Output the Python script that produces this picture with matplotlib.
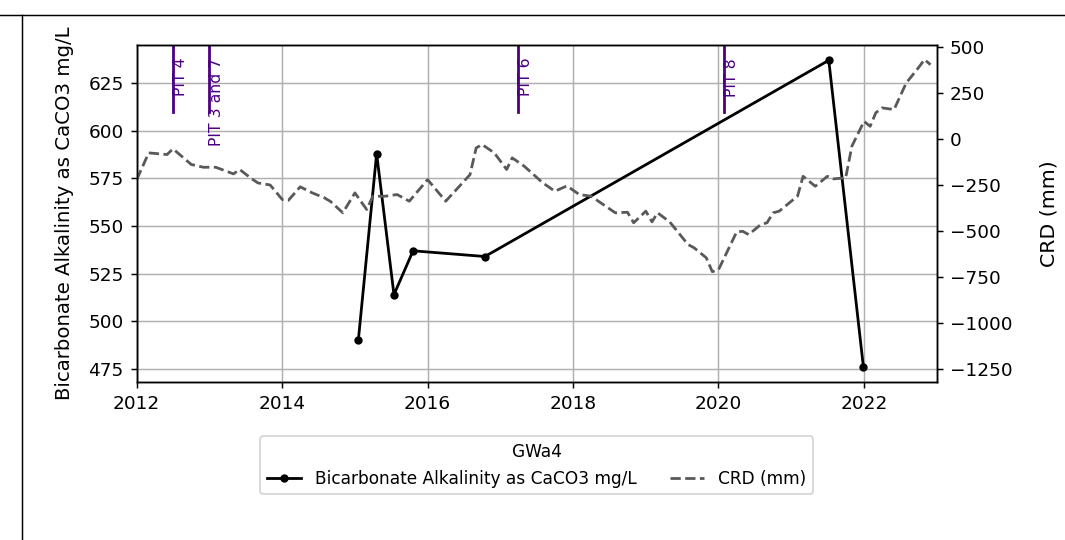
import pandas as pd
import matplotlib.pyplot as plt
import matplotlib.dates as mdates
from matplotlib.ticker import MultipleLocator
from matplotlib.lines import Line2D

# bicarbonate samples
alk_dates = ['2015-01-18', '2015-04-20', '2015-07-16', '2015-10-20', '2016-10-15', '2021-07-08', '2021-12-29']
alk_values = [490, 588, 514, 537, 534, 637, 476]

# CRD (mm)
crd_dates = ['2012-01', '2012-03', '2012-06', '2012-07', '2012-10', '2012-12', '2013-02', '2013-05',
             '2013-06', '2013-08', '2013-09', '2013-11', '2014-01', '2014-02', '2014-04', '2014-06',
             '2014-08', '2014-09', '2014-11', '2015-01', '2015-03', '2015-04', '2015-06', '2015-08',
             '2015-10', '2016-01', '2016-04', '2016-08', '2016-09', '2016-10', '2016-12', '2017-02',
             '2017-03', '2017-05', '2017-08', '2017-10', '2017-12', '2018-02', '2018-04', '2018-08',
             '2018-10', '2018-11', '2019-01', '2019-02', '2019-03', '2019-05', '2019-08', '2019-09',
             '2019-11', '2019-12', '2020-01', '2020-04', '2020-05', '2020-06', '2020-08', '2020-09',
             '2020-10', '2020-11', '2021-01', '2021-02', '2021-03', '2021-05', '2021-07', '2021-08',
             '2021-10', '2021-11', '2022-01', '2022-02', '2022-03', '2022-04', '2022-06', '2022-08',
             '2022-10', '2022-11', '2022-12']
crd_values = [-221, -76, -85, -54, -139, -154, -154, -190,
              -166, -217, -239, -250, -329, -333, -260, -293,
              -320, -340, -401, -293, -383, -311, -311, -302,
              -338, -221, -338, -194, -49, -31, -76, -166,
              -103, -149, -238, -284, -255, -302, -311, -401,
              -398, -455, -392, -450, -401, -450, -573, -591,
              -645, -720, -710, -505, -501, -519, -464, -455,
              -401, -392, -338, -311, -203, -257, -203, -217,
              -211, -40, 95, 68, 141, 168, 159, 303,
              385, 430, 402]

pit_dates = ['2012-07-01', '2012-12-29', '2017-03-28', '2020-01-30']
pit_labels = ['PIT 4', 'PIT 3 and 7', 'PIT 6', 'PIT 8']

dpi = 133.125
fig = plt.figure(figsize=(1065 / dpi, 540 / dpi), dpi=dpi)
ax = fig.add_axes([0.1284, 0.292, 0.7511, 0.6247])
ax2 = ax.twinx()

l1, = ax.plot(pd.to_datetime(alk_dates), alk_values, '-o', color='black', markersize=3.5,
              label='Bicarbonate Alkalinity as CaCO3 mg/L')
l2, = ax2.plot(pd.to_datetime(crd_dates), crd_values, '--', color='0.35',
               label='CRD (mm)')

for d, lab in zip(pit_dates, pit_labels):
    ax.axvline(pd.to_datetime(d), ymin=0.8, ymax=1, color='indigo')
    ax.text(pd.to_datetime(d), 0.962, lab, rotation=90, va='top', ha='left', fontsize=8.5,
            color='indigo', transform=ax.get_xaxis_transform())

ax.set_xlim(pd.Timestamp('2012-01-01'), pd.Timestamp('2023-01-01'))
ax.xaxis.set_major_locator(mdates.YearLocator(2))
ax.xaxis.set_major_formatter(mdates.DateFormatter('%Y'))
ax.yaxis.set_major_locator(MultipleLocator(25))
ax.grid(True)
ax.set_ylabel('Bicarbonate Alkalinity as CaCO3 mg/L', fontsize=10.7, labelpad=8)

ax2.set_ylim(-1320, 509)
ax2.yaxis.set_major_locator(MultipleLocator(250))
ax2.set_ylabel('CRD (mm)', fontsize=11, labelpad=15)

ax.legend(handles=[l1, l2], title='GWa4', ncol=2, loc='upper center', fontsize=9.2,
          title_fontsize=9.2, bbox_to_anchor=(0.5, -0.135))

# border lines from the page
fig.add_artist(Line2D([0, 1], [1 - 15 / 540, 1 - 15 / 540], transform=fig.transFigure,
                      color='black', lw=0.8))
fig.add_artist(Line2D([22 / 1065, 22 / 1065], [0, 1 - 15 / 540], transform=fig.transFigure,
                      color='black', lw=0.8))

plt.savefig('out.png', dpi=dpi)
